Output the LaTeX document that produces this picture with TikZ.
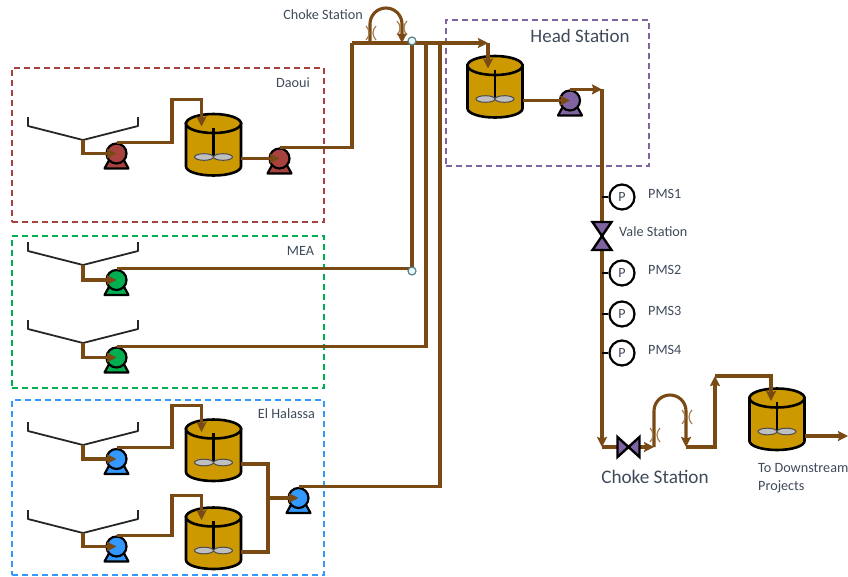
\documentclass[tikz,border=0pt]{standalone}
\usepackage{fontspec}
\setmainfont{Carlito}
\usetikzlibrary{arrows.meta, calc}

\definecolor{pipebrown}{HTML}{794A14}
\definecolor{orifbrown}{HTML}{A67C52}
\definecolor{tankgold}{HTML}{CC9900}
\definecolor{labelslate}{HTML}{3F4A5A}
\definecolor{daouired}{HTML}{A8423F}
\definecolor{meagreen}{HTML}{00B050}
\definecolor{halassablue}{HTML}{3399FF}
\definecolor{headpurple}{HTML}{8064A2}

\begin{document}
\begin{tikzpicture}[
  x=1pt, y=-1pt,
  font=\fontsize{14.2}{18}\selectfont,
  zone/.style={dash pattern=on 6pt off 4pt, line width=1.7pt, inner sep=0pt},
  lab/.style={text=labelslate, inner sep=0pt, align=left},
  pipe/.style={draw=pipebrown, line width=3.1pt},
  flow/.style={pipe, -{Stealth[length=10pt, width=10pt, inset=1.5pt]}},
  stub/.style={draw=black, line width=2pt},
  junc/.style={circle, draw=gray!70!teal, fill=cyan!8, line width=1.2pt, minimum size=8pt, inner sep=0pt},
  gauge/.style={circle, draw=black, fill=white, line width=2.2pt, minimum size=25pt, inner sep=0pt,
    text=labelslate, font=\fontsize{14}{15}\selectfont},
  pics/hopper/.style={code={
    \coordinate (-v) at (0,0);
    \draw[draw=black!85, line width=1.8pt, line join=round] (-55,-23) -- (-55,-14) -- (0,0) -- (55,-14) -- (55,-23);
  }},
  pics/pump/.style={code={
    \draw[draw=black, fill=#1, line width=2.2pt, line join=round] (-12,15) -- (12,15) -- (6,4) -- (-6,4) -- cycle;
    \node[circle, draw=black, fill=#1, line width=2.2pt, minimum size=20pt, inner sep=0pt] (-c) at (0,0) {};
  }},
  pics/tank/.style={code={
    \coordinate (-in) at (#1,3);
    \coordinate (-out) at (27.5,35);
    \draw[draw=black, fill=tankgold, line width=2.6pt] (-27.5,0) -- (-27.5,43)
      arc[start angle=180, end angle=0, x radius=27.5, y radius=9] -- (27.5,0) -- cycle;
    \draw[draw=black, fill=tankgold, line width=2.6pt] (0,0) ellipse[x radius=27.5, y radius=9.5];
    \draw[draw=black, line width=2.4pt] (0,4) -- (0,33);
    \draw[draw=black!70, fill=gray!50, line width=1pt] (-9.5,33.5) ellipse[x radius=9.5, y radius=3.3];
    \draw[draw=black!70, fill=gray!50, line width=1pt] (9.5,33.5) ellipse[x radius=9.5, y radius=3.3];
  }},
  pics/orifice/.style={code={
    \draw[draw=orifbrown, line width=1.2pt] (-5,-7) .. controls (-1,-3) and (-1,3) .. (-5,7);
    \draw[draw=orifbrown, line width=1.2pt] (5,-7) .. controls (1,-3) and (1,3) .. (5,7);
  }},
  pics/valve/.style 2 args={code={
    \draw[draw=black, fill=headpurple, line width=2.4pt, line join=miter]
      (-#1,-#2) -- (-#1,#2) -- (#1,-#2) -- (#1,#2) -- cycle;
  }}
]
\useasboundingbox (0,0) rectangle (848,576);

% --- the four dashed station boxes ---
\node[zone, draw=daouired, minimum width=312pt, minimum height=154pt] (daoui) at (168,145) {};
\node[zone, draw=meagreen, minimum width=312pt, minimum height=152pt] (mea) at (168,312) {};
\node[zone, draw=halassablue, minimum width=312pt, minimum height=175pt] (halassa) at (168,487.5) {};
\node[zone, draw=headpurple, minimum width=203pt, minimum height=146pt] (head) at (547.5,93) {};

\node[lab] (ldaoui) at (293,83) {Daoui};
\node[lab] (lmea) at (300.5,251) {MEA};
\node[lab] (lhalassa) at (286.5,414) {El Halassa};
\node[lab, font=\fontsize{19}{22}\selectfont] (lhead) at (580,36) {Head Station};
\node[lab] (lchoke1) at (323,15) {Choke Station};
\node[lab, font=\fontsize{19.2}{22}\selectfont] (lchoke2) at (655,477) {Choke Station};
\node[lab, anchor=north west] (ldown) at (758,463) {To Downstream\\Projects};
\node[lab, anchor=west] (lvale) at (619,232) {Vale Station};
\node[lab, anchor=west] (lpms1) at (648,193.5) {PMS1};
\node[lab, anchor=west] (lpms2) at (648,269.5) {PMS2};
\node[lab, anchor=west] (lpms3) at (648,310.5) {PMS3};
\node[lab, anchor=west] (lpms4) at (648,349.5) {PMS4};

% --- hoppers, pumps and tanks ---
\pic (h1) at (83,140) {hopper};
\pic (h2) at (83,265) {hopper};
\pic (h3) at (83,343) {hopper};
\pic (h4) at (83,445) {hopper};
\pic (h5) at (83,533) {hopper};

\pic (p1) at (116.5,153.5) {pump={daouired}};
\pic (p2) at (279.5,158.5) {pump={daouired}};
\pic (p3) at (116.5,280) {pump={meagreen}};
\pic (p4) at (116.5,357.5) {pump={meagreen}};
\pic (p5) at (116.5,459) {pump={halassablue}};
\pic (p6) at (116.5,546.5) {pump={halassablue}};
\pic (p7) at (298.5,498) {pump={halassablue}};
\pic (p8) at (570,100.5) {pump={headpurple}};

\pic (t1) at (213.5,123.5) {tank={-12}};
\pic (t2) at (213.5,429) {tank={-12}};
\pic (t3) at (213.5,517) {tank={-12}};
\pic (t4) at (495,65.5) {tank={-7}};
\pic (t5) at (777,398) {tank={-6}};

% --- named bends of the pipe run ---
\coordinate (hdr) at (352,43);
\coordinate (loopa) at (370,43);
\coordinate (loopb) at (402,43);
\coordinate (jca) at (412,41);
\coordinate (jcb) at (412,271);
\coordinate (mrg) at (268,498);
\coordinate (rise) at (602,91);
\coordinate (chk) at (602,447);
\coordinate (lowa) at (654,447);
\coordinate (lowb) at (686,447);
\coordinate (up) at (715,376);
\coordinate (exit) at (848,436);

% Daoui line
\draw[flow] (h1-v) |- (p1-c.center);
\draw[flow] (p1-c.north) -| ++(55.5,-43) -| (t1-in);
\draw[flow] (t1-out) -- (p2-c.center);
\draw[pipe] (p2-c.north) -| (hdr);

% MEA lines
\draw[flow] (h2-v) |- (p3-c.center);
\draw[pipe] (p3-c.north) -- (p3-c.north -| jcb) -- (jca);
\draw[flow] (h3-v) |- (p4-c.center);
\draw[pipe] (p4-c.north) -| (426,43);

% El Halassa lines
\draw[flow] (h4-v) |- (p5-c.center);
\draw[flow] (p5-c.north) -| ++(55.5,-42) -| (t2-in);
\draw[flow] (h5-v) |- (p6-c.center);
\draw[flow] (p6-c.north) -| ++(55.5,-40) -| (t3-in);
\draw[pipe] (t2-out) -| (mrg);
\draw[pipe] (t3-out) -| (mrg);
\draw[flow] (mrg) -- (p7-c.center);
\draw[pipe] (p7-c.north) -| (440,43);

% header, upper choke loop and head tank
\draw[flow] (hdr) -- (t4-in |- hdr);
\draw[flow] (t4-in |- hdr) -- (t4-in);
\draw[flow] (loopa) -- ++(0,-19) arc[start angle=180, end angle=360, radius=16] -- (loopb);
\draw[flow] (t4-out) -- (p8-c.center);
\draw[flow] (p8-c.north) -- (p8-c.north -| rise);

% long run down and lower choke loop
\draw[flow] (p8-c.north -| rise) -- (chk);
\draw[flow] (chk) -- (lowa);
\draw[flow] (lowa) -- ++(0,-36) arc[start angle=180, end angle=360, radius=16] -- (lowb);
\draw[flow] (lowb) -| (up);
\draw[flow] (up) -| (t5-in);
\draw[flow] (t5-out |- exit) -- (exit);

\pic at (371,33) {orifice};
\pic at (402,28) {orifice};
\pic at (655,435) {orifice};
\pic at (687,417) {orifice};

% junctions sit over the pipes
\node[junc] (j1) at (jca) {};
\node[junc] (j2) at (jcb) {};

% --- valves and pressure gauges ---
\pic[rotate=90] (v1) at (602,236) {valve={14}{9.5}};
\pic (v2) at (628.5,447) {valve={11}{10}};

\node[gauge] (g1) at (622,197) {P};
\node[gauge] (g2) at (622,273) {P};
\node[gauge] (g3) at (622,314) {P};
\node[gauge] (g4) at (622,353) {P};
\draw[stub] (g1.west -| rise) -- (g1.west);
\draw[stub] (g2.west -| rise) -- (g2.west);
\draw[stub] (g3.west -| rise) -- (g3.west);
\draw[stub] (g4.west -| rise) -- (g4.west);

\end{tikzpicture}
\end{document}
